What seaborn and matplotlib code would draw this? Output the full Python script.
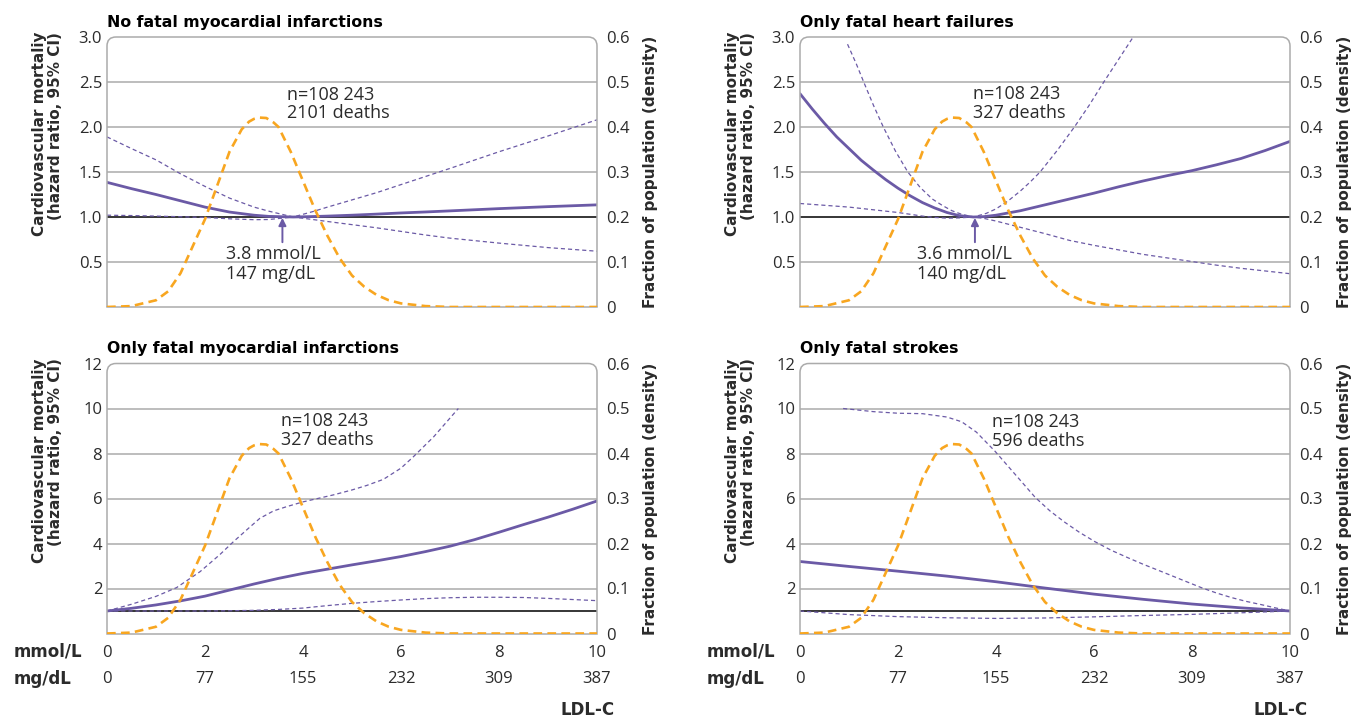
import matplotlib
matplotlib.use("Agg")
import matplotlib.pyplot as plt
import seaborn as sns
from matplotlib.path import Path
from matplotlib.patches import PathPatch

# ---------------- data ----------------
# LDL-C tick labels
mmol_ticks = [0, 2, 4, 6, 8, 10]
mgdl_labels = ["0", "77", "155", "232", "309", "387"]
dens_ticks = [0, 0.1, 0.2, 0.3, 0.4, 0.5, 0.6]
dens_labels = ["0", "0.1", "0.2", "0.3", "0.4", "0.5", "0.6"]

# population density (same in all panels)
dens_x = [0, 0.5, 1.0, 1.25, 1.5, 1.75, 2.0, 2.25, 2.5, 2.75, 2.9, 3.0, 3.1, 3.25, 3.4, 3.5,
          3.75, 4.0, 4.25, 4.5, 4.75, 5.0, 5.25, 5.5, 5.75, 6.0, 6.5, 7.0, 8.0, 9.0, 10.0]
dens_y = [0, 0.002, 0.015, 0.035, 0.075, 0.135, 0.195, 0.27, 0.345, 0.395, 0.412, 0.418, 0.421,
          0.42, 0.41, 0.40, 0.345, 0.28, 0.215, 0.158, 0.108, 0.07, 0.045, 0.027, 0.015, 0.008,
          0.002, 0, 0, 0, 0]

# Panel 1: No fatal myocardial infarctions
p1_x = [0, 0.5, 1, 1.5, 2, 2.5, 3, 3.3, 3.8, 4.2, 4.5, 5, 5.5, 6, 6.5, 7, 8, 9, 10]
p1_hr = [1.385, 1.315, 1.25, 1.18, 1.11, 1.055, 1.02, 1.007, 1.0, 1.005, 1.01, 1.02, 1.032,
         1.045, 1.056, 1.068, 1.093, 1.115, 1.135]
p1_up = [1.89, 1.76, 1.635, 1.48, 1.34, 1.21, 1.11, 1.065, 1.0, 1.06, 1.11, 1.19, 1.27,
         1.36, 1.45, 1.54, 1.725, 1.90, 2.08]
p1_lo = [1.02, 1.016, 1.01, 1.003, 0.995, 0.98, 0.97, 0.972, 1.0, 0.972, 0.95, 0.915, 0.88,
         0.84, 0.80, 0.765, 0.71, 0.66, 0.62]

# Panel 2: Only fatal heart failures
p2_x = [0, 0.25, 0.5, 0.75, 1.0, 1.25, 1.5, 1.75, 2.0, 2.25, 2.5, 2.75, 3.0, 3.25, 3.54,
        3.75, 4.0, 4.5, 5.0, 5.5, 6.0, 6.5, 7.0, 7.5, 8.0, 8.5, 9.0, 9.5, 10.0]
p2_hr = [2.37, 2.2, 2.04, 1.89, 1.76, 1.63, 1.52, 1.415, 1.32, 1.235, 1.16, 1.1, 1.05, 1.015,
         1.0, 1.004, 1.02, 1.07, 1.135, 1.2, 1.265, 1.335, 1.40, 1.46, 1.515, 1.58, 1.65,
         1.74, 1.84]
p2_lo = [1.15, 1.14, 1.13, 1.12, 1.11, 1.095, 1.08, 1.065, 1.05, 1.03, 1.01, 0.995, 0.987,
         0.99, 1.0, 0.985, 0.955, 0.885, 0.815, 0.74, 0.685, 0.635, 0.585, 0.545, 0.505,
         0.465, 0.43, 0.40, 0.37]
p2_up_x = [0.97, 1.15, 1.3, 1.5, 1.7, 1.95, 2.2, 2.45, 2.7, 2.9, 3.1, 3.3, 3.54, 3.8, 4.0,
           4.25, 4.5, 4.7, 4.9, 5.25, 5.6, 5.9, 6.2, 6.5, 6.8]
p2_up = [2.92, 2.7, 2.5, 2.24, 2.0, 1.73, 1.5, 1.33, 1.2, 1.13, 1.07, 1.03, 1.0, 1.04, 1.09,
         1.18, 1.29, 1.39, 1.5, 1.74, 2.0, 2.24, 2.5, 2.75, 3.0]

# Panel 3: Only fatal myocardial infarctions
p3_x = [0, 0.5, 1.0, 1.5, 2.0, 2.5, 3.0, 3.5, 4.0, 4.5, 5.0, 5.5, 6.0, 6.5, 7.0, 7.5,
        8.0, 8.5, 9.0, 9.5, 10.0]
p3_hr = [1.0, 1.12, 1.27, 1.45, 1.66, 1.93, 2.2, 2.45, 2.67, 2.86, 3.05, 3.23, 3.42,
         3.64, 3.88, 4.17, 4.5, 4.84, 5.17, 5.52, 5.89]
p3_lo = [1.0, 1.0, 1.0, 1.0, 1.0, 1.01, 1.03, 1.07, 1.13, 1.24, 1.34, 1.42, 1.49, 1.55,
         1.59, 1.61, 1.61, 1.6, 1.56, 1.51, 1.46]
p3_up_x = [0, 0.5, 1.0, 1.42, 1.9, 2.3, 2.58, 2.9, 3.12, 3.4, 3.67, 4.0, 4.62, 5.0, 5.3,
           5.64, 6.0, 6.25, 6.67, 7.17]
p3_up = [1.0, 1.3, 1.65, 2.04, 2.75, 3.5, 4.08, 4.7, 5.12, 5.45, 5.64, 5.85, 6.16, 6.38,
         6.58, 6.85, 7.35, 7.85, 8.75, 10.0]

# Panel 4: Only fatal strokes
p4_x = [0, 1, 2, 3, 4, 5, 6, 7, 8, 9, 10]
p4_hr = [3.2, 2.98, 2.77, 2.55, 2.3, 2.02, 1.75, 1.52, 1.31, 1.14, 1.0]
p4_lo = [1.0, 0.84, 0.75, 0.70, 0.67, 0.69, 0.74, 0.80, 0.85, 0.92, 1.0]
p4_up_x = [0.88, 1.5, 2.0, 2.5, 3.0, 3.3, 3.6, 3.98, 4.4, 4.8, 5.1, 5.4, 5.7, 6.02, 6.35,
           6.7, 7.0, 7.38, 7.8, 8.2, 8.5, 8.8, 9.1, 9.42, 9.7, 10.0]
p4_up = [10.0, 9.86, 9.79, 9.77, 9.62, 9.41, 8.95, 8.1, 7.05, 6.05, 5.45, 4.95, 4.5, 4.08,
         3.7, 3.36, 3.08, 2.75, 2.38, 2.03, 1.8, 1.6, 1.43, 1.28, 1.14, 1.0]

titles = ["No fatal myocardial infarctions", "Only fatal heart failures",
          "Only fatal myocardial infarctions", "Only fatal strokes"]
deaths = ["2101 deaths", "327 deaths", "327 deaths", "596 deaths"]
n_label = "n=108 243"
ref_lines = [("3.8 mmol/L", "147 mg/dL"), ("3.6 mmol/L", "140 mg/dL")]
ylab_left = "Cardiovascular mortaliy\n(hazard ratio, 95% CI)"
ylab_right = "Fraction of population (density)"

# ---------------- style ----------------
sns.set_theme(style="white")
plt.rcParams["font.family"] = ["Open Sans", "DejaVu Sans"]
PURPLE = "#6B5AA6"
ORANGE = "#F8A620"
GRID = "#ABABAB"
TXT = "#2B2B2B"
BOLD = ["DejaVu Sans"]

W_PX, H_PX = 1356, 718
fig = plt.figure(figsize=(W_PX / 100, H_PX / 100), dpi=100)

AX_W, AX_H = 490, 270
lefts = [107, 800]
tops = [37, 363.5]


def rounded_frame(ax):
    rx = 9 / AX_W
    ry = 9 / AX_H
    verts = [(0, 0), (0, 1 - ry), (0, 1), (rx, 1), (1 - rx, 1), (1, 1), (1, 1 - ry), (1, 0)]
    codes = [Path.MOVETO, Path.LINETO, Path.CURVE3, Path.CURVE3, Path.LINETO,
             Path.CURVE3, Path.CURVE3, Path.LINETO]
    patch = PathPatch(Path(verts, codes), fill=False, edgecolor=GRID, lw=1.1,
                      transform=ax.transAxes, clip_on=False, zorder=5)
    ax.add_patch(patch)


panels = [
    dict(x=p1_x, hr=p1_hr, up_x=p1_x, up=p1_up, lo_x=p1_x, lo=p1_lo, ymax=3.0,
         yt=[0.5, 1.0, 1.5, 2.0, 2.5, 3.0], ytl=["0.5", "1.0", "1.5", "2.0", "2.5", "3.0"],
         txt=(3.67, 2.36, 2.15), arrow=(3.58, 0.72, 0.99), ref=ref_lines[0], refx=2.43,
         refy=(0.59, 0.37)),
    dict(x=p2_x, hr=p2_hr, up_x=p2_up_x, up=p2_up, lo_x=p2_x, lo=p2_lo, ymax=3.0,
         yt=[0.5, 1.0, 1.5, 2.0, 2.5, 3.0], ytl=["0.5", "1.0", "1.5", "2.0", "2.5", "3.0"],
         txt=(3.53, 2.37, 2.15), arrow=(3.57, 0.72, 0.99), ref=ref_lines[1], refx=2.38,
         refy=(0.59, 0.37)),
    dict(x=p3_x, hr=p3_hr, up_x=p3_up_x, up=p3_up, lo_x=p3_x, lo=p3_lo, ymax=12,
         yt=[2, 4, 6, 8, 10, 12], ytl=["2", "4", "6", "8", "10", "12"],
         txt=(3.56, 9.45, 8.6), arrow=None),
    dict(x=p4_x, hr=p4_hr, up_x=p4_up_x, up=p4_up, lo_x=p4_x, lo=p4_lo, ymax=12,
         yt=[2, 4, 6, 8, 10, 12], ytl=["2", "4", "6", "8", "10", "12"],
         txt=(3.91, 9.42, 8.55), arrow=None),
]

for i, p in enumerate(panels):
    row, col = divmod(i, 2)
    l = lefts[col] / W_PX
    b = 1 - (tops[row] + AX_H) / H_PX
    ax = fig.add_axes([l, b, AX_W / W_PX, AX_H / H_PX])
    ax.set_facecolor("none")

    # gridlines (not at top, which is the frame)
    for t in p["yt"][:-1]:
        if t == 1.0:
            continue
        ax.axhline(t, color=GRID, lw=1.1, zorder=0)
    ax.axhline(1.0, color="black", lw=1.1, zorder=1)

    # hazard ratio and CI
    sns.lineplot(x=p["x"], y=p["hr"], ax=ax, color=PURPLE, lw=2.0, zorder=3)
    sns.lineplot(x=p["up_x"], y=p["up"], ax=ax, color=PURPLE, lw=0.9, zorder=3)
    ax.lines[-1].set_dashes((3.3, 2.4))
    sns.lineplot(x=p["lo_x"], y=p["lo"], ax=ax, color=PURPLE, lw=0.9, zorder=3)
    ax.lines[-1].set_dashes((3.3, 2.4))

    ax.set_xlim(0, 10)
    ax.set_ylim(0, p["ymax"])
    ax.set_yticks(p["yt"])
    ax.set_yticklabels(p["ytl"])
    ax.set_xticks(mmol_ticks)
    ax.set_xlabel("")
    ax.set_ylabel("")
    for s in ["left", "right", "top"]:
        ax.spines[s].set_visible(False)
    ax.spines["bottom"].set_color(GRID)
    ax.spines["bottom"].set_linewidth(1.1)
    ax.tick_params(axis="y", length=0, pad=3.5, labelsize=12, labelcolor=TXT)
    ax.tick_params(axis="x", direction="in", length=5, width=1.1, color=GRID, pad=8,
                   labelsize=12, labelcolor=TXT)
    rounded_frame(ax)

    if row == 0:
        ax.set_xticklabels([])
    else:
        ax.set_xticklabels([str(t) for t in mmol_ticks])
        for t, lab in zip(mmol_ticks, mgdl_labels):
            ax.annotate(lab, xy=(t, 0), xycoords=("data", "axes fraction"),
                        xytext=(0, -33), textcoords="offset points", ha="center",
                        va="center", fontsize=12, color=TXT)
        fig.text((lefts[col] - 93) / W_PX, 1 - 651 / H_PX, "mmol/L", family=BOLD,
                 weight="bold", fontsize=12, ha="left", va="center", color=TXT)
        fig.text((lefts[col] - 93) / W_PX, 1 - 679 / H_PX, "mg/dL", family=BOLD,
                 weight="bold", fontsize=12, ha="left", va="center", color=TXT)
        fig.text((lefts[col] + 508) / W_PX, 1 - 710 / H_PX, "LDL-C", family=BOLD,
                 weight="bold", fontsize=12, ha="right", va="center", color=TXT)

    # annotation text
    tx, ty1, ty2 = p["txt"]
    ax.text(tx, ty1, n_label, fontsize=13, color=TXT, va="center", ha="left")
    ax.text(tx, ty2, deaths[i], fontsize=13, color=TXT, va="center", ha="left")
    if p["arrow"] is not None:
        axx, y0, y1 = p["arrow"]
        ax.annotate("", xy=(axx, y1), xytext=(axx, y0),
                    arrowprops=dict(arrowstyle="-|>", color=PURPLE, lw=1.4,
                                    mutation_scale=11, shrinkA=0, shrinkB=0), zorder=6)
        ax.text(p["refx"], p["refy"][0], p["ref"][0], fontsize=13, color=TXT, va="center")
        ax.text(p["refx"], p["refy"][1], p["ref"][1], fontsize=13, color=TXT, va="center")

    # title
    ax.annotate(titles[i], xy=(0, 1), xycoords="axes fraction", xytext=(0, 7.5),
                textcoords="offset points", ha="left", va="baseline", family=BOLD,
                weight="bold", fontsize=11.3, color="black")

    # y labels
    ax.text(-59.5 / AX_W, 1 + 5 / AX_H, ylab_left, transform=ax.transAxes, rotation=90,
            ha="center", va="top", multialignment="right", family=BOLD, weight="bold",
            fontsize=11, color=TXT, linespacing=1.15)

    # density on secondary axis
    ax2 = ax.twinx()
    sns.lineplot(x=dens_x, y=dens_y, ax=ax2, color=ORANGE, lw=1.9, zorder=4)
    ax2.lines[-1].set_dashes((3.3, 2.0))
    ax2.set_ylim(0, 0.6)
    ax2.set_xlim(0, 10)
    ax2.set_yticks(dens_ticks)
    ax2.set_yticklabels(dens_labels)
    ax2.set_ylabel("")
    for s in ax2.spines.values():
        s.set_visible(False)
    ax2.tick_params(axis="y", length=0, pad=6.5, labelsize=12, labelcolor=TXT)
    ax2.text(1 + 54 / AX_W, 0.5, ylab_right, transform=ax2.transAxes, rotation=90,
             ha="center", va="center", family=BOLD, weight="bold", fontsize=11, color=TXT)

fig.savefig("out.png", dpi=100)
